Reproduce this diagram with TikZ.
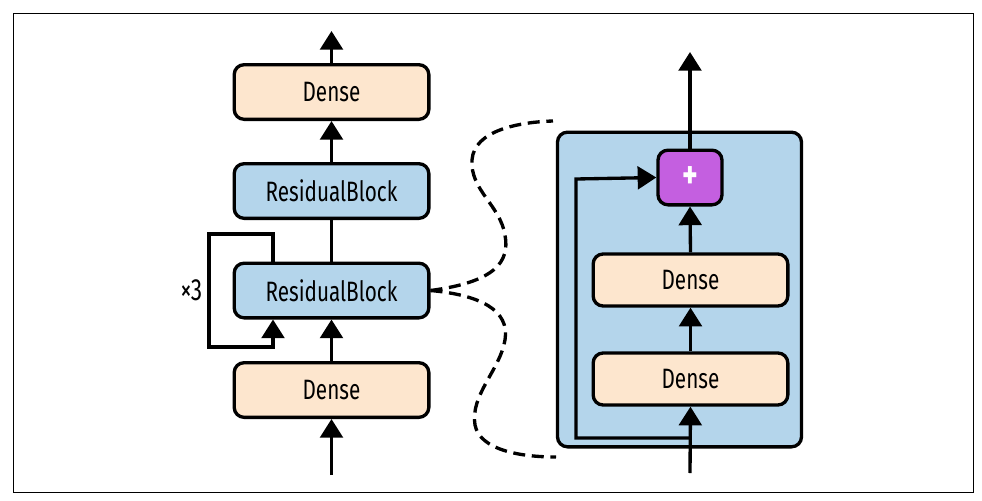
\documentclass[tikz,border=0pt]{standalone}
\usepackage{fontspec}
\setmainfont{Fira Sans}[FakeStretch=0.74]
\usetikzlibrary{arrows.meta}

\definecolor{densefill}{HTML}{FDE6CE}
\definecolor{blockfill}{HTML}{B4D5EB}
\definecolor{addfill}{HTML}{C45FE0}

\begin{document}
\begin{tikzpicture}[x = 7.5pt, y = -7.5pt,
  box/.style = {draw, line width = 2.5pt, rounded corners = 7.5pt, minimum width = 146pt, minimum height = 41pt, font = \fontsize{21}{24}\selectfont},
  dense/.style = {box, fill = densefill},
  resblock/.style = {box, fill = blockfill},
  flow/.style = {line width = 2.5pt, -{Triangle[length = 14pt, width = 17pt]}},
  zoomline/.style = {line width = 2.5pt, dash pattern = on 9pt off 5pt}]
\useasboundingbox (0, 0) rectangle (98.2, 50);
\draw [line width = 0.75pt] (1.3, 1.3) rectangle (97.3, 49.2);
% left: the stack
\node [dense] (denseIn) at (33.15, 39.0) {Dense};
\node [resblock] (resA) at (33.15, 29.05) {ResidualBlock};
\node [resblock] (resB) at (33.15, 19.1) {ResidualBlock};
\node [dense] (denseOut) at (33.15, 9.2) {Dense};
\coordinate (inL) at (33.15, 47.5);
\coordinate (outL) at (33.15, 3.1);
\draw [flow] (inL) -- (denseIn.south);
\draw [flow] (denseIn.north) -- (resA.south);
\draw [line width = 2.5pt] (resA.north) -- (resB.south);
\draw [flow] (resB.north) -- (denseOut.south);
\draw [flow] (denseOut.north) -- (outL);
% repeat loop
\coordinate (loopR) at (27.3, 23.4);
\coordinate (loopL) at (20.9, 34.7);
\draw [flow] (resA.north -| loopR) -- (loopR) -| (loopL) -| (resA.south -| loopR);
\node [anchor = east, font = \fontsize{23}{26}\selectfont] (times) at (20.7, 29.0) {×3};
% right: inside a residual block
\node [draw, line width = 2.5pt, rounded corners = 7.5pt, fill = blockfill, minimum width = 183pt, minimum height = 236pt] (panel) at (67.95, 28.95) {};
\node [draw, line width = 2.5pt, rounded corners = 7.5pt, fill = addfill, minimum width = 48pt, minimum height = 41pt, inner sep = 0pt, text = white, font = \fontsize{30}{32}\selectfont\bfseries] (add) at (69.0, 17.75) {+};
\node [dense, minimum height = 39pt] (denseC) at (69.05, 28.0) {Dense};
\node [dense, minimum height = 39pt] (denseD) at (69.05, 37.9) {Dense};
\coordinate (inR) at (69.0, 47.3);
\coordinate (outR) at (69.0, 5.2);
\coordinate (skipA) at (69.0, 43.8);
\coordinate (skipC) at (57.6, 17.9);
\draw [flow] (inR) -- (denseD.south);
\draw [flow] (denseD.north) -- (denseC.south);
\draw [flow] (denseC.north) -- (add.south);
\draw [flow] (add.north) -- (outR);
\draw [flow] (skipA) -| (skipC) -- (add.west);
% zoom lines
\coordinate (zoomTop) at (55.3, 12.1);
\coordinate (zoomBot) at (55.6, 45.7);
\draw [zoomline] (resA.east) .. controls (49.5, 28.2) and (51.0, 26.2) .. (50.5, 23.5)
  .. controls (50.0, 20.5) and (47.0, 19.0) .. (47.2, 16.0)
  .. controls (47.4, 13.0) and (52.0, 12.2) .. (zoomTop);
\draw [zoomline] (resA.east) .. controls (48.0, 29.5) and (51.0, 31.0) .. (50.5, 34.0)
  .. controls (50.0, 37.0) and (47.0, 39.5) .. (47.5, 42.5)
  .. controls (48.0, 45.0) and (52.0, 45.7) .. (zoomBot);
\end{tikzpicture}
\end{document}
